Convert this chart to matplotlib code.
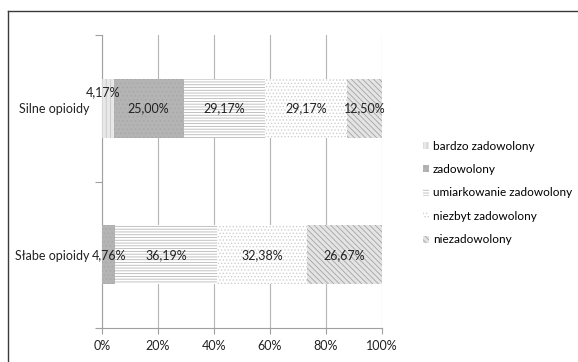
import matplotlib.pyplot as plt
import matplotlib as mpl

mpl.rcParams['font.family'] = ['Lato', 'DejaVu Sans']
mpl.rcParams['hatch.linewidth'] = 0.6

categories = ['Słabe opioidy', 'Silne opioidy']
series = ['bardzo zadowolony', 'zadowolony', 'umiarkowanie zadowolony',
          'niezbyt zadowolony', 'niezadowolony']
values = {
    'bardzo zadowolony': [0.00, 4.17],
    'zadowolony': [4.76, 25.00],
    'umiarkowanie zadowolony': [36.19, 29.17],
    'niezbyt zadowolony': [32.38, 29.17],
    'niezadowolony': [26.67, 12.50],
}
xticks = [0, 20, 40, 60, 80, 100]

# fill colour, hatch colour, hatch pattern
styles = {
    'bardzo zadowolony': ('#e8e8e8', '#c8c8c8', '||||'),
    'zadowolony': ('#b4b4b4', '#a8a8a8', '....'),
    'umiarkowanie zadowolony': ('#ffffff', '#b8b8b8', '------'),
    'niezbyt zadowolony': ('#ffffff', '#cfcfcf', '.....'),
    'niezadowolony': ('#e4e4e4', '#a4a4a4', '\\\\\\\\\\\\'),
}

fs = 9

fig = plt.figure(figsize=(5.78, 3.62), dpi=100)
ax = fig.add_axes([102 / 578, 1 - 328 / 362, 280 / 578, 293 / 362])

# outer frame (left and top edges only)
fig.add_artist(plt.Line2D([8 / 578, 8 / 578], [0, 1 - 11 / 362], color='#3a3a3a', lw=1.0,
                          transform=fig.transFigure))
fig.add_artist(plt.Line2D([8 / 578, 1], [1 - 11 / 362, 1 - 11 / 362], color='#3a3a3a', lw=1.0,
                          transform=fig.transFigure))

ypos = [0, 1]
left = [0.0, 0.0]
handles = []
for name in series:
    fc, hc, hatch = styles[name]
    vals = values[name]
    b = ax.barh(ypos, vals, left=left, height=0.4, color=fc, edgecolor=hc,
                hatch=hatch, linewidth=0, label=name, zorder=3)
    handles.append(b)
    for y, l, v in zip(ypos, left, vals):
        if v <= 0:
            continue
        txt = f'{v:.2f}%'.replace('.', ',')
        cx = l + v / 2
        cy = y
        if v < 4.5:
            cx, cy = l + 0.3, y + 0.11
        ax.text(cx, cy, txt, ha='center', va='center', fontsize=fs,
                color='#222222', zorder=5)
    left = [a + b_ for a, b_ in zip(left, vals)]

ax.set_xlim(0, 100)
ax.set_ylim(-0.5, 1.5)
ax.set_xticks(xticks)
ax.set_xticklabels([f'{t}%' for t in xticks], fontsize=fs, color='#222222')
ax.set_yticks([-0.5, 0.5, 1.5])
ax.set_yticklabels([])
ax.set_yticks(ypos, minor=True)
ax.set_yticklabels(categories, minor=True, fontsize=fs, color='#222222')
ax.tick_params(axis='y', which='minor', length=0, pad=9)
ax.tick_params(axis='y', which='major', length=5, color='#a0a0a0', width=0.8)
ax.tick_params(axis='x', length=4, color='#a0a0a0', width=0.8, pad=5)

ax.grid(axis='x', color='#b5b5b5', lw=0.8, zorder=0)
for s in ['top', 'right']:
    ax.spines[s].set_visible(False)
for s in ['left', 'bottom']:
    ax.spines[s].set_color('#a0a0a0')
    ax.spines[s].set_linewidth(0.8)

fig.legend(handles=handles, labels=series, loc='center left',
           bbox_to_anchor=(418 / 578, 1 - 193 / 362), frameon=False,
           fontsize=8.5, handlelength=0.55, handleheight=0.55, handletextpad=0.3,
           labelspacing=1.05, borderaxespad=0)

fig.savefig('out.png', dpi=100)
